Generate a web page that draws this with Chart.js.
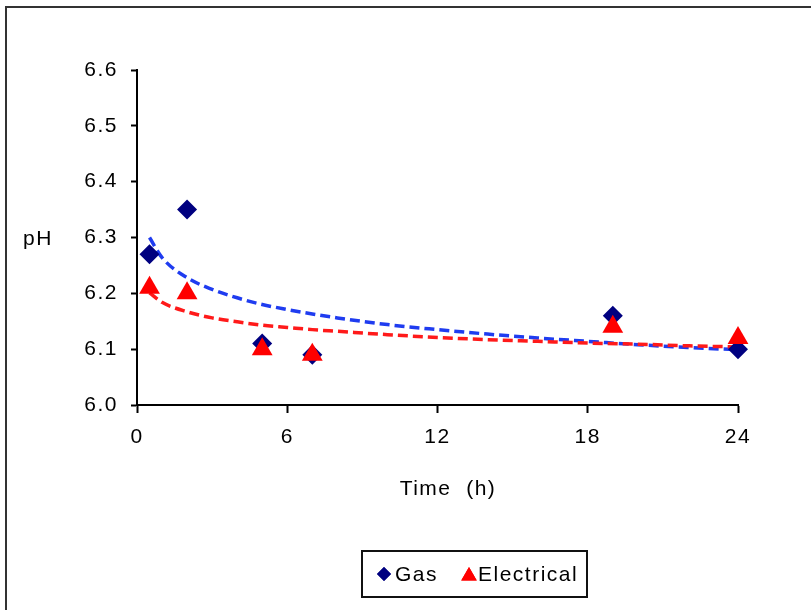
<!DOCTYPE html>
<html>
<head>
<meta charset="utf-8">
<script src="https://cdn.jsdelivr.net/npm/chart.js@4/dist/chart.umd.min.js"></script>
<style>
  html, body { margin: 0; padding: 0; background: #fff; overflow: hidden; }
  #wrap { position: relative; width: 811px; height: 610px; }
  #frame { position: absolute; left: 5px; top: 6px; width: 900px; height: 700px; border: 2px solid #333; box-sizing: border-box; }
  #chart-ph { position: absolute; left: 0; top: 0; }
</style>
</head>
<body>
<div id="wrap">
  <div id="frame"></div>
  <canvas id="chart-ph" width="811" height="610"></canvas>
</div>
<script>
// measured points
const times = [0.5, 2, 5, 7, 19, 24];
const ph_gas = [6.27, 6.35, 6.11, 6.09, 6.16, 6.10];
const ph_electrical = [6.21, 6.20, 6.10, 6.09, 6.14, 6.12];

// trendlines
const trend_times = [0.5, 1, 2, 3, 4, 5, 6, 7, 8, 10, 12, 14, 16, 18, 20, 22, 24];
const trend_gas = [6.300, 6.264, 6.228, 6.207, 6.192, 6.180, 6.171, 6.163, 6.156, 6.144, 6.135, 6.127, 6.120, 6.114, 6.108, 6.103, 6.099];
const trend_electrical = [6.201, 6.184, 6.167, 6.156, 6.149, 6.143, 6.139, 6.135, 6.132, 6.126, 6.121, 6.117, 6.114, 6.111, 6.109, 6.106, 6.104];

const x_ticks = [0, 6, 12, 18, 24];
const y_ticks = [6.0, 6.1, 6.2, 6.3, 6.4, 6.5, 6.6];

const font_name = "'Liberation Sans', Arial, sans-serif";

function pairs(xs, ys){
    let out = [];
    for (let i = 0; i < xs.length; i++) {
        out.push({x: xs[i], y: ys[i]});
    }
    return out;
}

// the original text is drawn a bit wider than Arial, so spread the letters
function spread(chart){
    chart.ctx.letterSpacing = '1.5px';
}

const extra_text = {
    id: 'extra_text',
    beforeUpdate(chart){ spread(chart); },
    beforeDraw(chart){ spread(chart); },
    afterDraw(chart){
        const ctx = chart.ctx;
        ctx.save();
        ctx.fillStyle = '#000';
        ctx.font = '21px ' + font_name;
        ctx.textBaseline = 'middle';
        ctx.textAlign = 'left';
        ctx.fillText('pH', 23, 239);
        ctx.textAlign = 'center';
        ctx.fillText('Time  (h)', 448, 489);

        // legend box
        ctx.lineWidth = 2;
        ctx.strokeStyle = '#111';
        ctx.strokeRect(362, 551, 225, 46);

        const draw = Chart.helpers.drawPoint;
        ctx.fillStyle = '#000080';
        draw(ctx, {pointStyle: 'rectRot', radius: 7, rotation: 0, borderWidth: 0}, 384, 574);
        ctx.fill();
        ctx.fillStyle = '#ff0000';
        draw(ctx, {pointStyle: 'triangle', radius: 9, rotation: 0, borderWidth: 0}, 469, 576);
        ctx.fill();

        ctx.fillStyle = '#000';
        ctx.textAlign = 'left';
        ctx.fillText('Gas', 395, 575);
        ctx.fillText('Electrical', 478, 575);
        ctx.restore();
    }
};

const chart_ph = new Chart(document.getElementById('chart-ph'), {
    type: 'scatter',
    data: {
        datasets: [{
            label: 'Electrical',
            data: pairs(times, ph_electrical),
            pointStyle: 'triangle',
            pointRadius: 12,
            pointHoverRadius: 12,
            backgroundColor: '#ff0000',
            borderColor: '#ff0000',
            borderWidth: 0,
            order: 0,
            clip: false
        }, {
            label: 'Gas',
            data: pairs(times, ph_gas),
            pointStyle: 'rectRot',
            pointRadius: 10,
            pointHoverRadius: 10,
            backgroundColor: '#000080',
            borderColor: '#000080',
            borderWidth: 0,
            order: 1,
            clip: false
        }, {
            label: 'Electrical trend',
            type: 'line',
            data: pairs(trend_times, trend_electrical),
            borderColor: '#ff1a1a',
            borderWidth: 3.5,
            borderDash: [10, 5],
            pointRadius: 0,
            cubicInterpolationMode: 'monotone',
            fill: false,
            order: 2
        }, {
            label: 'Gas trend',
            type: 'line',
            data: pairs(trend_times, trend_gas),
            borderColor: '#1f3cf0',
            borderWidth: 3.5,
            borderDash: [10, 5],
            pointRadius: 0,
            cubicInterpolationMode: 'monotone',
            fill: false,
            order: 3
        }]
    },
    options: {
        responsive: false,
        animation: false,
        events: [],
        layout: { padding: { left: 0, top: 70, right: 73, bottom: 0 } },
        plugins: {
            legend: { display: false },
            tooltip: { enabled: false }
        },
        scales: {
            x: {
                type: 'linear',
                min: 0,
                max: 24,
                afterFit(scale){ scale.height = 205; },
                afterBuildTicks(scale){ scale.ticks = x_ticks.map(v => ({value: v})); },
                ticks: {
                    color: '#000',
                    font: { family: font_name, size: 21 },
                    padding: 12,
                    maxRotation: 0
                },
                grid: { drawOnChartArea: false, drawTicks: true, tickLength: 8, tickColor: '#000', tickWidth: 2 },
                border: { display: true, color: '#000', width: 2 }
            },
            y: {
                type: 'linear',
                min: 6.0,
                max: 6.6,
                afterFit(scale){ scale.width = 137; },
                afterBuildTicks(scale){ scale.ticks = y_ticks.map(v => ({value: v})); },
                ticks: {
                    color: '#000',
                    font: { family: font_name, size: 21 },
                    padding: 13,
                    callback: v => v.toFixed(1)
                },
                grid: { drawOnChartArea: false, drawTicks: true, tickLength: 6, tickColor: '#000', tickWidth: 2 },
                border: { display: true, color: '#000', width: 2 }
            }
        }
    },
    plugins: [extra_text]
});
</script>
</body>
</html>
